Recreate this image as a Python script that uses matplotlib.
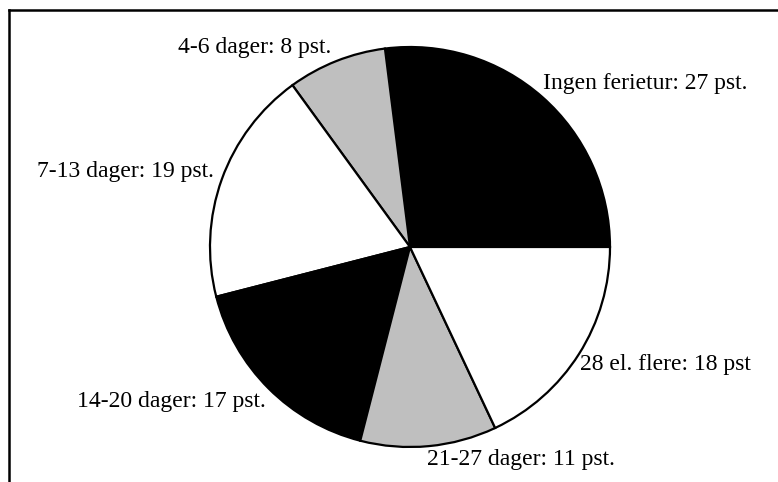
import matplotlib.pyplot as plt

# Ferieturer etter lengde (pst.)
labels = ['Ingen ferietur: 27 pst.', '4-6 dager: 8 pst.', '7-13 dager: 19 pst.',
          '14-20 dager: 17 pst.', '21-27 dager: 11 pst.', '28 el. flere: 18 pst']
shares = [27, 8, 19, 17, 11, 18]
fills = ['black', '#bfbfbf', 'white', 'black', '#bfbfbf', 'white']

plt.rcParams['font.family'] = ['Liberation Serif', 'DejaVu Serif']

W, H = 778, 482
fig = plt.figure(figsize=(W / 100, H / 100), dpi=100)
ax = fig.add_axes([0, 0, 1, 1])

ax.pie(shares, colors=fills, startangle=0, counterclock=True,
       center=(410, 235), radius=200,
       wedgeprops=dict(edgecolor='black', linewidth=1.6))

ax.set_xlim(0, W)
ax.set_ylim(0, H)
ax.set_aspect('equal')
ax.axis('off')

# label placement: left edge x, baseline y (counted from the bottom)
spots = [(543, 393), (178, 429), (37, 305), (77, 75), (427, 17), (580, 112)]
for txt, (x, y) in zip(labels, spots):
    ax.text(x, y, txt, ha='left', va='baseline', fontsize=17)

# frame: top and left edges only
ax.plot([9, W], [472, 472], color='black', lw=1.8)
ax.plot([9, 9], [0, 472], color='black', lw=1.8)

fig.savefig('out.png', dpi=100)
